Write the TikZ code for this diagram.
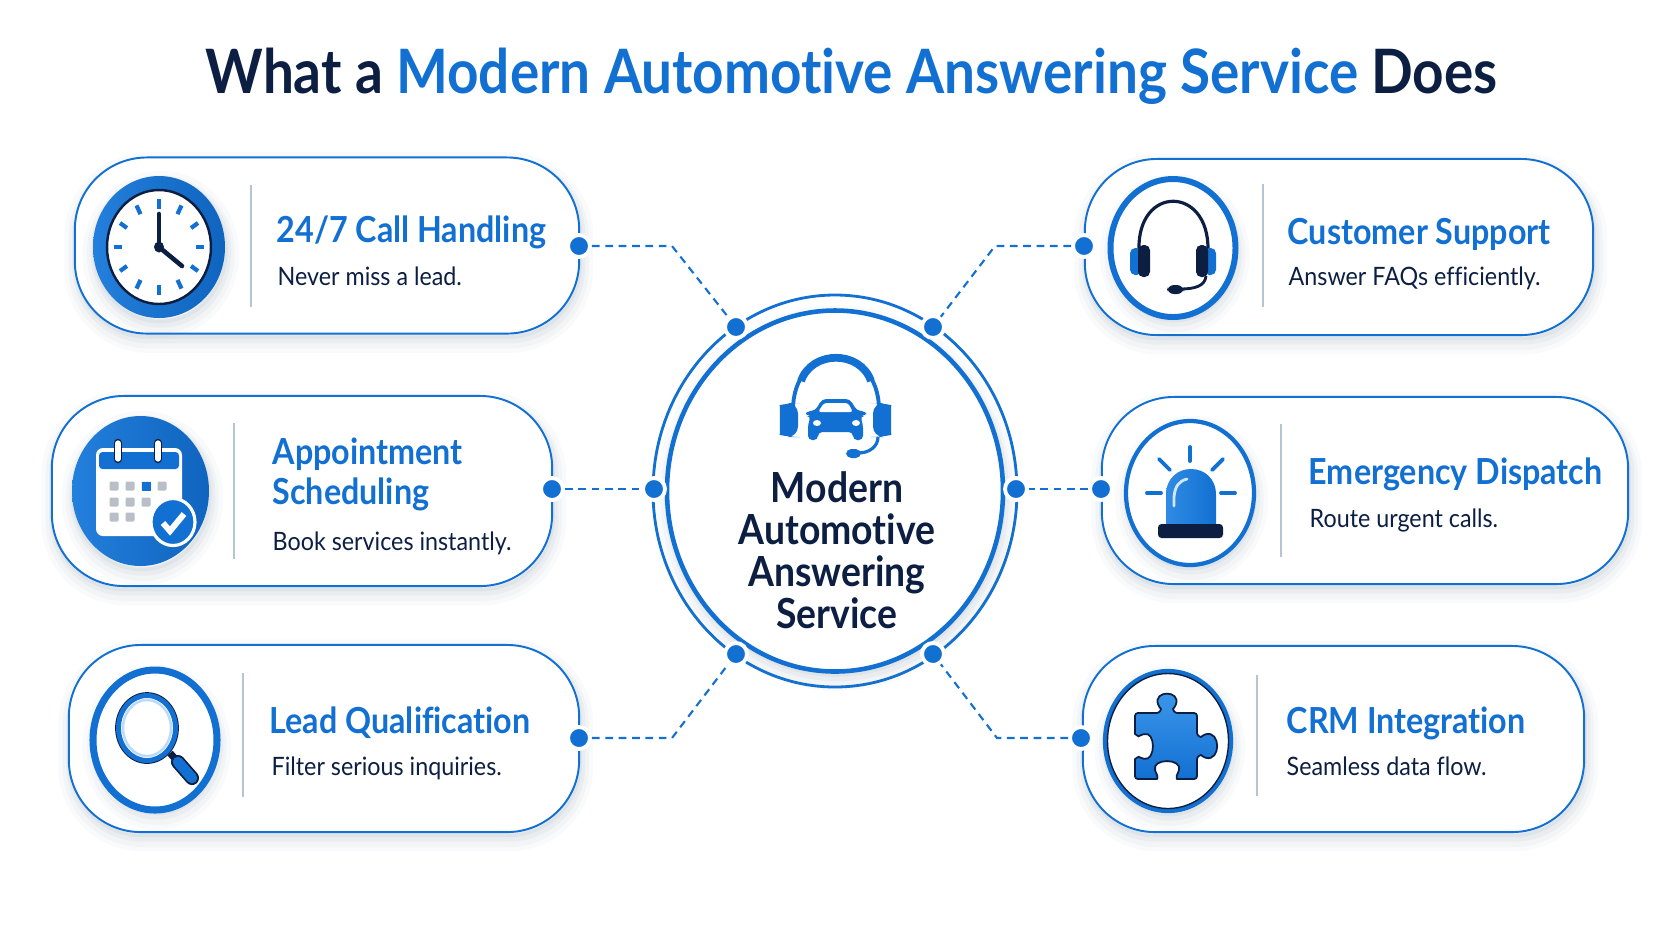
\documentclass[tikz,border=0pt]{standalone}
\usepackage{fontspec}
\setmainfont[FakeStretch=0.9,Ligatures=NoCommon]{Lato}
\newfontfamily\titlefont[FakeStretch=0.897,Ligatures=NoCommon]{Lato}
\newfontfamily\blurbfont[FakeStretch=0.92,Ligatures=NoCommon]{Lato}
\usetikzlibrary{shapes.geometric}
\definecolor{brand}{HTML}{1270D2}
\definecolor{brandlt}{HTML}{3C97EA}
\definecolor{brandmid}{HTML}{0F64BE}
\definecolor{ink}{HTML}{0C1F42}
\definecolor{rule}{HTML}{B7C4D3}
\definecolor{cell}{HTML}{B9BFC7}
\definecolor{shadowc}{HTML}{5A7391}
\tikzset{
  softshadow/.style={
    preaction={draw=shadowc,draw opacity=.03,fill=none,line width=7pt,transform canvas={xshift=.5pt,yshift=-2pt}},
    preaction={draw=shadowc,draw opacity=.04,fill=none,line width=4.5pt,transform canvas={xshift=.5pt,yshift=-2pt}},
    preaction={draw=shadowc,draw opacity=.05,fill=none,line width=2.5pt,transform canvas={xshift=.5pt,yshift=-1.5pt}},
    preaction={draw=shadowc,draw opacity=.07,fill=none,line width=1pt,transform canvas={xshift=.3pt,yshift=-1pt}}},
  card/.style={rectangle,rounded corners=0.72cm,draw=brand,line width=0.55pt,fill=white,inner sep=0pt,softshadow},
  pin/.style={circle,fill=brand,draw=white,line width=1.1pt,minimum size=0.22cm,inner sep=0pt},
  link/.style={draw=brand,line width=0.6pt,dash pattern=on 2.2pt off 1.6pt},
  ruleline/.style={draw=rule,line width=0.5pt},
  heading/.style={anchor=base west,inner sep=0pt,text=brand,font=\fontsize{10.2}{12}\selectfont\bfseries},
  blurb/.style={anchor=base west,inner sep=0pt,text=ink,font=\blurbfont\fontsize{7.2}{8}\selectfont},
  hubline/.style={anchor=base,inner sep=0pt,text=ink,font=\fontsize{11.8}{13}\selectfont\bfseries},
  ring/.style={draw=brand,fill=white,softshadow},
  tick/.style={draw=brand,line width=1.2pt},
  daybox/.style={fill=cell,rounded corners=0.3pt},
}
\begin{document}
\begin{tikzpicture}[x=0.01cm,y=-0.01cm]
\useasboundingbox[fill=white] (0,0) rectangle (1672,941);

% title
\node[anchor=base west,inner sep=0pt,font=\titlefont\fontsize{17.4}{24}\selectfont\bfseries] (title) at (205,93)
  {\textcolor{ink}{What a}\ \textcolor{brand}{Modern Automotive Answering Service}\ \textcolor{ink}{Does}};

% cards
\node[card,minimum width=5.04cm,minimum height=1.76cm] (calls) at (327,245.5) {};
\node[card,minimum width=5.00cm,minimum height=1.90cm] (booking) at (302,491) {};
\node[card,minimum width=5.10cm,minimum height=1.87cm] (leads) at (324,738.5) {};
\node[card,minimum width=5.08cm,minimum height=1.76cm] (support) at (1339,247) {};
\node[card,minimum width=5.26cm,minimum height=1.87cm] (dispatch) at (1365,490.5) {};
\node[card,minimum width=5.01cm,minimum height=1.86cm] (crm) at (1333.5,739) {};

% dividers
\draw[ruleline] (251,185) -- (251,307);
\draw[ruleline] (234,423) -- (234,559);
\draw[ruleline] (243,673) -- (243,797);
\draw[ruleline] (1263,184) -- (1263,307);
\draw[ruleline] (1281,424) -- (1281,557);
\draw[ruleline] (1257,675) -- (1257,796);

% card texts
\node[heading] (callsT) at (276,242) {24/7 Call Handling};
\node[blurb] (callsB) at (277,285) {Never miss a lead.};
\node[heading] (bookingT) at (272,464) {Appointment};
\node[heading] (bookingS) at (272,504) {Scheduling};
\node[blurb] (bookingB) at (272,550) {Book services instantly.};
\node[heading] (leadsT) at (269,733) {Lead Qualification};
\node[blurb] (leadsB) at (271,775) {Filter serious inquiries.};
\node[heading] (supportT) at (1287,244) {Customer Support};
\node[blurb] (supportB) at (1288,285) {Answer FAQs efficiently.};
\node[heading] (dispatchT) at (1308,484) {Emergency Dispatch};
\node[blurb] (dispatchB) at (1309,527) {Route urgent calls.};
\node[heading] (crmT) at (1286,733) {CRM Integration};
\node[blurb] (crmB) at (1286,775) {Seamless data flow.};

% hub
\draw[draw=brand,line width=0.8pt] (835,491) ellipse [x radius=182,y radius=196];
\draw[ring,line width=1.3pt] (835,491) ellipse [x radius=168,y radius=180.5];
\node[hubline] (hubA) at (837,502) {Modern};
\node[hubline] (hubB) at (837,544) {Automotive};
\node[hubline] (hubC) at (837,586) {Answering};
\node[hubline] (hubD) at (837,628) {Service};

% hub icon: headset
\draw[brand,line width=1.1pt] (793,410) .. controls (793,340) and (879,340) .. (879,410);
\draw[brand,line width=2.2pt] (801,381) .. controls (812,350) and (860,350) .. (871,381);
\fill[brand,rounded corners=3pt] (798,403) -- (798,437) -- (790,437) .. controls (780,435) and (780,405) .. (790,403) -- cycle;
\fill[brand,rounded corners=3pt] (873,403) -- (873,437) -- (881,437) .. controls (891,435) and (891,405) .. (881,403) -- cycle;
\draw[brand,line width=0.9pt] (878,437) .. controls (878,446) and (870,453) .. (858,453);
\fill[brand,rounded corners=1.5pt] (846,449) rectangle (861,458);
% hub icon: car
\fill[brand,rounded corners=1.2pt] (822,399) -- (850,399) -- (857,411) -- (866,411) -- (866,416) -- (860,416) -- (863,424) -- (863,440) -- (853,440) -- (853,432) -- (818,432) -- (818,440) -- (808,440) -- (808,424) -- (811,416) -- (806,416) -- (806,411) -- (815,411) -- cycle;
\fill[white,rounded corners=0.8pt] (824,403) -- (848,403) -- (853,412) -- (818,412) -- cycle;
\fill[white] (817,423) ellipse [x radius=4,y radius=3];
\fill[white] (856,423) ellipse [x radius=4,y radius=3];

% clock
\path[softshadow,left color=brandlt!40!brand,right color=brandmid] (159,247) ellipse [x radius=66,y radius=71];
\draw[fill=white,draw=ink,line width=0.7pt] (159,247) ellipse [x radius=52,y radius=57];
\foreach \a in {0,30,...,330} {
\draw[tick] ({159+37*sin(\a)},{247-38*cos(\a)}) -- ({159+45*sin(\a)},{247-48*cos(\a)});
}
\draw[ink,line width=1.3pt,line cap=round] (159,247) -- (159,214);
\draw[ink,line width=1.3pt,line cap=round] (159,247) -- (182,266);
\fill[ink] (159,247) ellipse [x radius=5,y radius=5.5];

% calendar
\path[softshadow,left color=brandlt!40!brand,right color=brandmid] (140.5,491) ellipse [x radius=68.5,y radius=75];
\fill[white,rounded corners=2pt] (96,448) rectangle (182,536);
\fill[brand,rounded corners=1pt] (99,452) rectangle (179,469);
\foreach \x in {114,130,146,162} {
\fill[daybox] ({\x-4.5},481.5) rectangle ({\x+4.5},490.5);
}
\fill[brand] (141.5,481.5) rectangle (150.5,490.5);
\foreach \x in {114,130,146} {
\fill[daybox] ({\x-4.5},497.5) rectangle ({\x+4.5},506.5);
}
\foreach \x in {114,130} {
\fill[daybox] ({\x-4.5},512.5) rectangle ({\x+4.5},521.5);
}
\foreach \x in {118,158} {
\draw[ink,line width=2.4pt,line cap=round] (\x,443) -- (\x,459);
\draw[white,line width=1.5pt,line cap=round] (\x,443) -- (\x,459);
}
\draw[white,fill=brand,line width=0.9pt] (173,522) ellipse [x radius=22,y radius=23.5];
\draw[white,line width=1.7pt] (163,523) -- (170,531) -- (184,514);

% magnifier
\draw[ring,line width=2pt] (155,740) ellipse [x radius=62,y radius=70];
\fill[white] (147,728) ellipse [x radius=29,y radius=33];
\draw[ink,line width=0.5pt] (147,728) ellipse [x radius=31,y radius=35];
\draw[brand,line width=1.4pt] (147,728) ellipse [x radius=28.5,y radius=32.5];
\draw[brandlt!35,line width=0.7pt] (147,728) ellipse [x radius=24,y radius=28];
\draw[ink,line width=2pt] (170,753) -- (178,762);
\draw[ink,line width=4pt,line cap=round] (178,762) -- (192,778);
\draw[brand,line width=3pt,line cap=round] (178,762) -- (192,778);

% headset
\draw[ring,line width=1.7pt] (1173,248) ellipse [x radius=62.5,y radius=69];
\draw[ink,line width=0.9pt] (1139,250) .. controls (1137,185) and (1209,185) .. (1208,250);
\fill[brand,rounded corners=1.5pt] (1130,248) rectangle (1142,275);
\fill[ink,rounded corners=1.5pt] (1138,245) rectangle (1150,277);
\fill[brand,rounded corners=1.5pt] (1204,248) rectangle (1216,275);
\fill[ink,rounded corners=1.5pt] (1196,245) rectangle (1208,277);
\draw[ink,line width=0.8pt] (1206,276) .. controls (1205,286) and (1195,289) .. (1180,289);
\fill[ink,rounded corners=2pt] (1167,285) rectangle (1184,294);

% siren
\draw[ring,line width=1.2pt] (1190,493) ellipse [x radius=64,y radius=72];
\foreach \ax/\ay/\bx/\by in {1190/447/1190/461,1159/459/1170/470,1223/459/1212/470,1147/493/1161/493,1235/493/1221/493} {
\draw[brand,line width=1.1pt,line cap=round] (\ax,\ay) -- (\bx,\by);
}
\path[left color=brandlt!70!brand,right color=brand] (1166,524) -- (1166,495) .. controls (1166,478) and (1178,469) .. (1191,469) .. controls (1204,469) and (1216,478) .. (1216,495) -- (1216,524) -- cycle;
\draw[white,opacity=.8,line width=0.8pt,line cap=round] (1174,506) -- (1174,497) .. controls (1175,486) and (1179,481) .. (1187,479);
\fill[ink,rounded corners=1pt] (1158,524) rectangle (1223,538);

% puzzle
\draw[ring,line width=1.2pt] (1168,741) ellipse [x radius=63,y radius=70];
\draw[ink,line width=0.4pt] (1168,741) ellipse [x radius=60.5,y radius=67.5];
\path[top color=brandlt,bottom color=brand,draw=ink,line width=0.5pt,rounded corners=0.8pt] (1135,713) -- (1154,713)
 .. controls (1160,713) and (1161,709) .. (1159,707)
 .. controls (1153,690) and (1181,690) .. (1175,707)
 .. controls (1173,709) and (1174,713) .. (1180,713)
 -- (1197,713) -- (1197,730)
 .. controls (1197,736) and (1201,737) .. (1203,735)
 .. controls (1221,730) and (1221,762) .. (1203,757)
 .. controls (1201,755) and (1197,756) .. (1197,762)
 -- (1197,779) -- (1180,779)
 .. controls (1176,779) and (1177,775) .. (1178,773)
 .. controls (1183,758) and (1151,758) .. (1156,773)
 .. controls (1157,775) and (1158,779) .. (1154,779)
 -- (1135,779) -- (1135,762)
 .. controls (1135,758) and (1139,757) .. (1141,758)
 .. controls (1156,762) and (1156,730) .. (1141,735)
 .. controls (1139,736) and (1135,735) .. (1135,731) -- cycle;

% pins on the cards and on the hub
\node[pin] (pinA) at (579,246) {};
\node[pin] (pinB) at (552,489) {};
\node[pin] (pinC) at (579,738) {};
\node[pin] (pinD) at (1084,246) {};
\node[pin] (pinE) at (1101,489) {};
\node[pin] (pinF) at (1081,738) {};
\node[pin] (hubA1) at (736,327) {};
\node[pin] (hubB1) at (654,489) {};
\node[pin] (hubC1) at (736,654) {};
\node[pin] (hubD1) at (933,327) {};
\node[pin] (hubE1) at (1016,489) {};
\node[pin] (hubF1) at (933,654) {};

% bends
\coordinate (bendA) at (672,246);
\coordinate (bendC) at (672,738);
\coordinate (bendD) at (995,246);
\coordinate (bendF) at (997,738);

% links
\draw[link] (pinA) -- (bendA) -- (hubA1);
\draw[link] (pinB) -- (hubB1);
\draw[link] (pinC) -- (bendC) -- (hubC1);
\draw[link] (pinD) -- (bendD) -- (hubD1);
\draw[link] (pinE) -- (hubE1);
\draw[link] (pinF) -- (bendF) -- (hubF1);

\end{tikzpicture}
\end{document}
